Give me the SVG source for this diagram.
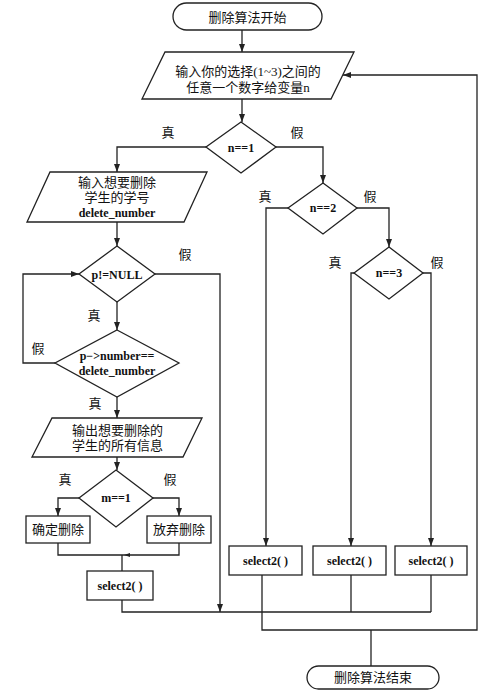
<svg xmlns="http://www.w3.org/2000/svg" width="497" height="698" viewBox="0 0 497 698">
<defs>
<marker id="ah" viewBox="0 0 8 6" refX="8" refY="3" markerWidth="8" markerHeight="6" markerUnits="userSpaceOnUse" orient="auto">
<path d="M0,0 L8,3 L0,6 Z" fill="#222"/>
</marker>
</defs>
<style>
.s{fill:#fff;stroke:#222;stroke-width:1.3}
.c{fill:none;stroke:#222;stroke-width:1.3}
.a{marker-end:url(#ah)}
.t{font-family:"Liberation Serif","Noto Sans CJK SC",serif;font-size:13px;fill:#111;text-anchor:middle}
.l{font-family:"Liberation Serif","Noto Sans CJK SC",serif;font-size:12px;font-weight:bold;fill:#111;text-anchor:middle}
.lb{font-family:"Noto Sans CJK SC",serif;font-size:13px;fill:#111;text-anchor:middle}
</style>
<rect width="497" height="698" fill="#fff"/>
<g id="connectors">
<path class="c a" d="M242,30 V52"/>
<path class="c a" d="M242,99 V122"/>
<path class="c a" d="M206,147 H117 V172"/>
<path class="c a" d="M276,147 H323 V183"/>
<path class="c a" d="M117,222 V246"/>
<path class="c a" d="M117,302 V330"/>
<path class="c a" d="M155,274 H220 V612"/>
<path class="c a" d="M55,363 H23 V274 H79"/>
<path class="c a" d="M117,397 V418"/>
<path class="c a" d="M117,457 V470"/>
<path class="c a" d="M79,498 H58 V516"/>
<path class="c a" d="M153,498 H179 V516"/>
<path class="c" d="M58,543 V555 H179 V543"/>
<path d="M124,555 L130,553 L130,557 Z" fill="#222"/>
<path class="c" d="M122,555 V571"/>
<path class="c" d="M122,600 V612 H431"/>
<path class="c a" d="M288,208 H266 V546"/>
<path class="c a" d="M357,208 H389 V247"/>
<path class="c a" d="M354,273 H351 V546"/>
<path class="c a" d="M423,273 H431 V546"/>
<path class="c a" d="M262,575 V630 H477 V75 H343"/>
<path class="c" d="M351,575 V612"/>
<path class="c" d="M431,575 V612"/>
<path class="c" d="M371,630 V666"/>
</g>
<g id="labels">
<text class="lb" x="168" y="137">真</text>
<text class="lb" x="297" y="137">假</text>
<text class="lb" x="185" y="259">假</text>
<text class="lb" x="94" y="320">真</text>
<text class="lb" x="38" y="353">假</text>
<text class="lb" x="95" y="408">真</text>
<text class="lb" x="65" y="484">真</text>
<text class="lb" x="170" y="484">假</text>
<text class="lb" x="265" y="201">真</text>
<text class="lb" x="370" y="201">假</text>
<text class="lb" x="335" y="267">真</text>
<text class="lb" x="437" y="267">假</text>
</g>
<g id="start">
<rect class="s" x="173" y="3" width="149" height="27" rx="13.5"/>
<text class="t" x="247.5" y="21.5">删除算法开始</text>
</g>
<g id="input_n">
<polygon class="s" points="165,52 354,52 331,99 142,99"/>
<text class="t" x="248" y="76">输入你的选择(1~3)之间的</text>
<text class="t" x="248" y="91.5">任意一个数字给变量n</text>
</g>
<g id="d_n1">
<polygon class="s" points="241,122 276,147 241,173 206,147"/>
<text class="l" x="241" y="151.5">n==1</text>
</g>
<g id="input_num">
<polygon class="s" points="50,172 207,172 184,222 27,222"/>
<text class="t" x="117" y="186.5">输入想要删除</text>
<text class="t" x="117" y="201.5">学生的学号</text>
<text class="l" x="117" y="217">delete_number</text>
</g>
<g id="d_pnull">
<polygon class="s" points="117,246 155,274 117,302 79,274"/>
<text class="l" x="117" y="278.5">p!=NULL</text>
</g>
<g id="d_match">
<polygon class="s" points="117,330 179,363 117,397 55,363"/>
<text class="l" x="117" y="360">p−&gt;number==</text>
<text class="l" x="117" y="375">delete_number</text>
</g>
<g id="output_info">
<polygon class="s" points="52,418 202,418 183,457 32,457"/>
<text class="t" x="117.5" y="434.5">输出想要删除的</text>
<text class="t" x="117.5" y="449.5">学生的所有信息</text>
</g>
<g id="d_m1">
<polygon class="s" points="116,470 153,498 116,527 79,498"/>
<text class="l" x="116" y="502">m==1</text>
</g>
<g id="confirm">
<rect class="s" x="26" y="516" width="64" height="27"/>
<text class="t" x="58" y="534">确定删除</text>
</g>
<g id="abandon">
<rect class="s" x="147" y="516" width="64" height="27"/>
<text class="t" x="179" y="534">放弃删除</text>
</g>
<g id="sel0">
<rect class="s" x="87" y="571" width="66" height="29"/>
<text class="l" x="120" y="590">select2( )</text>
</g>
<g id="d_n2">
<polygon class="s" points="323,183 357,208 323,234 288,208"/>
<text class="l" x="323" y="212">n==2</text>
</g>
<g id="d_n3">
<polygon class="s" points="389,247 423,273 389,299 354,273"/>
<text class="l" x="389" y="277">n==3</text>
</g>
<g id="sel1">
<rect class="s" x="229" y="546" width="73" height="29"/>
<text class="l" x="265.5" y="565">select2( )</text>
</g>
<g id="sel2">
<rect class="s" x="313" y="546" width="73" height="29"/>
<text class="l" x="349.5" y="565">select2( )</text>
</g>
<g id="sel3">
<rect class="s" x="395" y="546" width="72" height="29"/>
<text class="l" x="431" y="565">select2( )</text>
</g>
<g id="end">
<rect class="s" x="307" y="666" width="132" height="23" rx="11.5"/>
<text class="t" x="373" y="682">删除算法结束</text>
</g>
</svg>
